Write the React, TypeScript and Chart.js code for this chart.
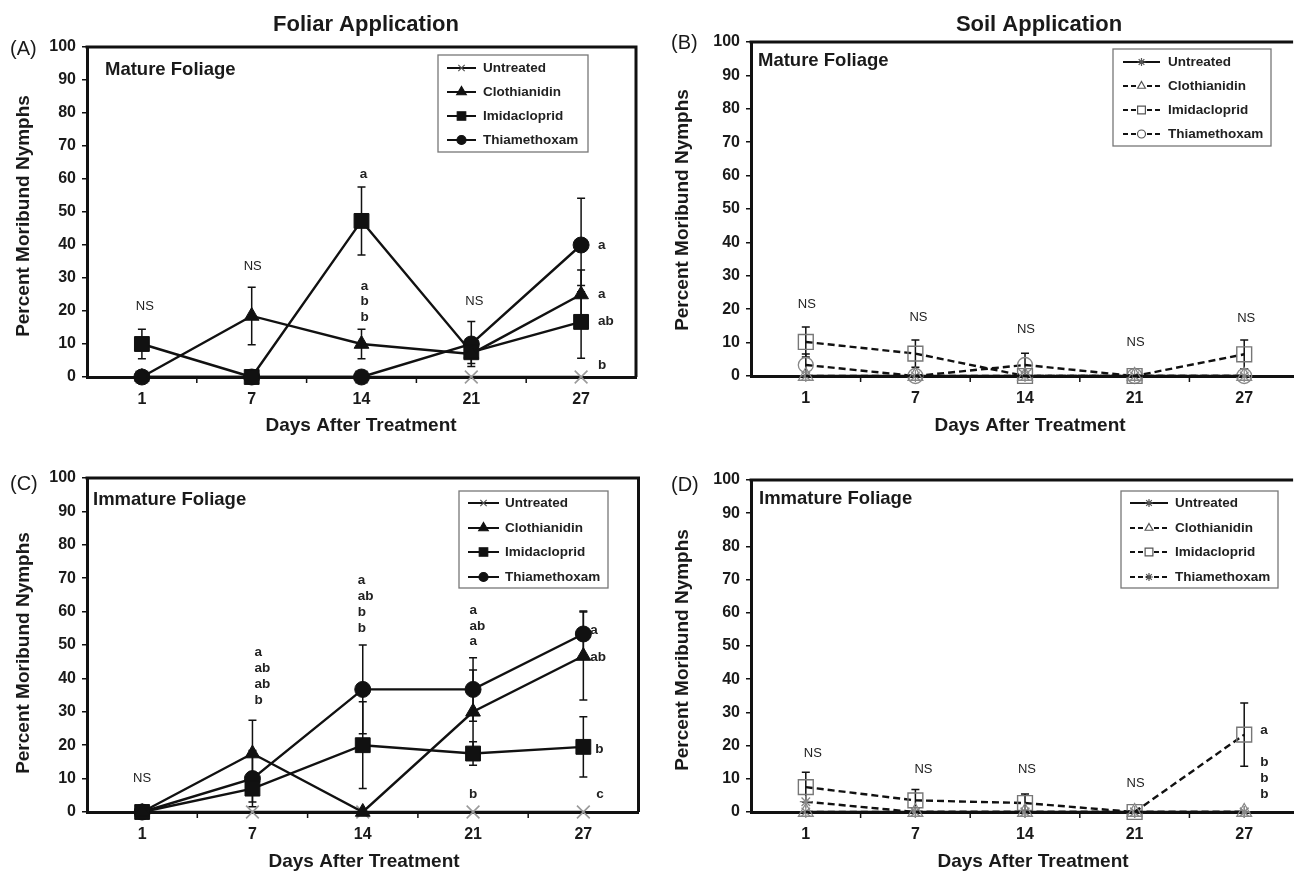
import React, { useEffect, useRef } from 'react';
import { Chart, registerables } from 'chart.js';

Chart.register(...registerables);

const FONT = '"Liberation Sans", Arial, Helvetica, sans-serif';

// ---------- data ----------
const DAYS = ['1', '7', '14', '21', '27'];
const TREATMENTS = ['Untreated', 'Clothianidin', 'Imidacloprid', 'Thiamethoxam'];
const Y_TICKS = { min: 0, max: 100, step: 10 };

// (A) Foliar application – mature foliage
const A_UNTREATED = [0, 0, 0, 0, 0];
const A_CLOTHIANIDIN = [0, 18.5, 10, 7, 25];
const A_IMIDACLOPRID = [10, 0, 47.3, 7.5, 16.7];
const A_THIAMETHOXAM = [0, 0, 0, 10, 40];
const A_ERR_CLOTHIANIDIN = [0, 8.7, 4.5, 0, 7.4];
const A_ERR_IMIDACLOPRID = [4.5, 0, 10.3, 3.4, 11];
const A_ERR_THIAMETHOXAM = [0, 0, 0, 6.8, 14.2];
// [day index, value, text, dx, align]
const A_LETTERS = [
  [0, 21.5, 'NS', 3, 'c'], [1, 33.6, 'NS', 1, 'c'],
  [2, 61.3, 'a', 2, 'c'], [2, 27.6, 'a', 3, 'c'], [2, 23, 'b', 3, 'c'], [2, 18.2, 'b', 3, 'c'],
  [3, 23, 'NS', 3, 'c'],
  [4, 40, 'a', 17, 'l'], [4, 25, 'a', 17, 'l'], [4, 17, 'ab', 17, 'l'], [4, 3.4, 'b', 17, 'l'],
];

// (B) Soil application – mature foliage
const B_UNTREATED = [0, 0, 0, 0, 0];
const B_CLOTHIANIDIN = [0, 0, 0, 0, 0];
const B_IMIDACLOPRID = [10.2, 6.7, 0, 0, 6.5];
const B_THIAMETHOXAM = [3.3, 0, 3.3, 0, 0];
const B_ERR_IMIDACLOPRID = [4.5, 4.1, 0, 0, 4.3];
const B_ERR_THIAMETHOXAM = [3.3, 0, 3.5, 0, 0];
const B_LETTERS = [
  [0, 21.5, 'NS', 1, 'c'], [1, 17.6, 'NS', 3, 'c'], [2, 14, 'NS', 1, 'c'],
  [3, 10.2, 'NS', 1, 'c'], [4, 17.3, 'NS', 2, 'c'],
];

// (C) Foliar application – immature foliage
const C_UNTREATED = [0, 0, 0, 0, 0];
const C_CLOTHIANIDIN = [0, 17.5, 0, 30, 46.7];
const C_IMIDACLOPRID = [0, 7, 20, 17.5, 19.5];
const C_THIAMETHOXAM = [0, 10, 36.7, 36.7, 53.3];
const C_ERR_CLOTHIANIDIN = [0, 10, 0, 12.5, 13.2];
const C_ERR_IMIDACLOPRID = [0, 4, 13, 3.5, 9];
const C_ERR_THIAMETHOXAM = [0, 8.4, 13.3, 9.5, 6.9];
const C_LETTERS = [
  [0, 10.2, 'NS', 0, 'c'],
  [1, 47.9, 'a', 2, 'l'], [1, 43, 'ab', 2, 'l'], [1, 38.3, 'ab', 2, 'l'], [1, 33.5, 'b', 2, 'l'],
  [2, 69.5, 'a', -5, 'l'], [2, 64.7, 'ab', -5, 'l'], [2, 59.9, 'b', -5, 'l'], [2, 55, 'b', -5, 'l'],
  [3, 60.5, 'a', -3.5, 'l'], [3, 55.7, 'ab', -3.5, 'l'], [3, 51, 'a', -3.5, 'l'], [3, 5.4, 'b', 0, 'c'],
  [4, 54.5, 'a', 7, 'l'], [4, 46.4, 'ab', 7, 'l'], [4, 18.9, 'b', 12, 'l'], [4, 5.4, 'c', 13, 'l'],
];

// (D) Soil application – immature foliage
const D_UNTREATED = [0, 0, 0, 0, 0];
const D_CLOTHIANIDIN = [0, 0, 0, 0, 0];
const D_IMIDACLOPRID = [7.5, 3.5, 2.7, 0, 23.3];
const D_THIAMETHOXAM = [3.1, 0, 0, 0, 0];
const D_ERR_IMIDACLOPRID = [4.5, 3.3, 2.7, 0, 9.5];
const D_LETTERS = [
  [0, 17.6, 'NS', 7, 'c'], [1, 12.8, 'NS', 8, 'c'], [2, 12.8, 'NS', 2, 'c'], [3, 8.5, 'NS', 1, 'c'],
  [4, 24.7, 'a', 16, 'l'], [4, 15, 'b', 16, 'l'], [4, 10.2, 'b', 16, 'l'], [4, 5.2, 'b', 16, 'l'],
];

// ---------- styles ----------
const FOLIAR_STYLES = [
  { pointStyle: 'crossRot', r: 9, fill: 'rgba(0,0,0,0)', stroke: '#9a9a9a', pbw: 1.6, dash: [], lr: 4.5 },
  { pointStyle: 'triangle', r: 8.5, fill: '#111', stroke: '#111', pbw: 1, dash: [], lr: 5.5 },
  { pointStyle: 'rect', r: 10.5, fill: '#111', stroke: '#111', pbw: 1, dash: [], lr: 6 },
  { pointStyle: 'circle', r: 8, fill: '#111', stroke: '#111', pbw: 1, dash: [], lr: 4.5 },
];
const SOIL_STYLES_B = [
  { pointStyle: 'star', r: 6, fill: 'rgba(0,0,0,0)', stroke: '#888', pbw: 1.2, dash: [], lr: 4 },
  { pointStyle: 'triangle', r: 8.5, fill: 'rgba(0,0,0,0)', stroke: '#888', pbw: 1.3, dash: [7, 4], lr: 4.5 },
  { pointStyle: 'rect', r: 10.5, fill: 'rgba(0,0,0,0)', stroke: '#777', pbw: 1.4, dash: [7, 4], lr: 5.5 },
  { pointStyle: 'circle', r: 7.5, fill: 'rgba(0,0,0,0)', stroke: '#888', pbw: 1.3, dash: [7, 4], lr: 4 },
];
const SOIL_STYLES_D = [
  SOIL_STYLES_B[0], SOIL_STYLES_B[1], SOIL_STYLES_B[2],
  { pointStyle: 'star', r: 6, fill: 'rgba(0,0,0,0)', stroke: '#888', pbw: 1.3, dash: [7, 4], lr: 4 },
];

const PANELS = [
  {
    key: 'A', left: 0, top: 0, w: 650, h: 440, padTop: 47, padRight: 14, yW: 87, xH: 63, xMax: 4.5, closedRight: true,
    letter: '(A)', letterPos: [10, 55], title: 'Foliar Application', titlePos: [366, 31],
    sub: 'Mature Foliage', subPos: [105, 75], yTitlePos: [24, 216], xTitlePos: [361, 431],
    legend: { box: [438, 55, 150, 97], rows: [68, 92, 116, 140], line: [447, 476], text: 483 },
    styles: FOLIAR_STYLES,
    series: [
      { values: A_UNTREATED, err: null },
      { values: A_CLOTHIANIDIN, err: A_ERR_CLOTHIANIDIN },
      { values: A_IMIDACLOPRID, err: A_ERR_IMIDACLOPRID },
      { values: A_THIAMETHOXAM, err: A_ERR_THIAMETHOXAM },
    ],
    letters: A_LETTERS,
  },
  {
    key: 'B', left: 650, top: 0, w: 655, h: 440, padTop: 42, padRight: 0, yW: 101, xH: 64, xMax: 4.446, closedRight: false,
    letter: '(B)', letterPos: [21, 49], title: 'Soil Application', titlePos: [389, 31],
    sub: 'Mature Foliage', subPos: [108, 66], yTitlePos: [33, 210], xTitlePos: [380, 431],
    legend: { box: [463, 49, 158, 97], rows: [62, 86, 110, 134], line: [473, 510], text: 518 },
    styles: SOIL_STYLES_B,
    series: [
      { values: B_UNTREATED, err: null },
      { values: B_CLOTHIANIDIN, err: null },
      { values: B_IMIDACLOPRID, err: B_ERR_IMIDACLOPRID },
      { values: B_THIAMETHOXAM, err: B_ERR_THIAMETHOXAM },
    ],
    letters: B_LETTERS,
  },
  {
    key: 'C', left: 0, top: 440, w: 650, h: 433, padTop: 38, padRight: 8, yW: 87, xH: 61, xMax: 4.5, closedRight: true,
    letter: '(C)', letterPos: [10, 50], title: '', titlePos: [0, 0],
    sub: 'Immature Foliage', subPos: [93, 65], yTitlePos: [24, 213], xTitlePos: [364, 427],
    legend: { box: [459, 51, 149, 97], rows: [63, 88, 112, 137], line: [468, 499], text: 505 },
    styles: FOLIAR_STYLES,
    series: [
      { values: C_UNTREATED, err: null },
      { values: C_CLOTHIANIDIN, err: C_ERR_CLOTHIANIDIN },
      { values: C_IMIDACLOPRID, err: C_ERR_IMIDACLOPRID },
      { values: C_THIAMETHOXAM, err: C_ERR_THIAMETHOXAM },
    ],
    letters: C_LETTERS,
  },
  {
    key: 'D', left: 650, top: 440, w: 655, h: 433, padTop: 40, padRight: 0, yW: 101, xH: 61, xMax: 4.446, closedRight: false,
    letter: '(D)', letterPos: [21, 51], title: '', titlePos: [0, 0],
    sub: 'Immature Foliage', subPos: [109, 64], yTitlePos: [33, 210], xTitlePos: [383, 427],
    legend: { box: [471, 51, 157, 97], rows: [63, 88, 112, 137], line: [480, 518], text: 525 },
    styles: SOIL_STYLES_D,
    series: [
      { values: D_UNTREATED, err: null },
      { values: D_CLOTHIANIDIN, err: null },
      { values: D_IMIDACLOPRID, err: D_ERR_IMIDACLOPRID },
      { values: D_THIAMETHOXAM, err: null },
    ],
    letters: D_LETTERS,
  },
];

// ---------- drawing helpers ----------
function drawMarker(ctx: CanvasRenderingContext2D, style: string, x: number, y: number, r: number) {
  ctx.beginPath();
  let fillable = true;
  if (style === 'circle') {
    ctx.arc(x, y, r, 0, Math.PI * 2);
  } else if (style === 'rect') {
    const s = r * Math.SQRT1_2;
    ctx.rect(x - s, y - s, 2 * s, 2 * s);
  } else if (style === 'triangle') {
    let a = 0;
    ctx.moveTo(x + Math.sin(a) * r, y - Math.cos(a) * r);
    a += (2 * Math.PI) / 3;
    ctx.lineTo(x + Math.sin(a) * r, y - Math.cos(a) * r);
    a += (2 * Math.PI) / 3;
    ctx.lineTo(x + Math.sin(a) * r, y - Math.cos(a) * r);
    ctx.closePath();
  } else {
    fillable = false;
    const c = r * Math.SQRT1_2;
    ctx.moveTo(x - c, y - c); ctx.lineTo(x + c, y + c);
    ctx.moveTo(x - c, y + c); ctx.lineTo(x + c, y - c);
    if (style === 'star') {
      ctx.moveTo(x - r, y); ctx.lineTo(x + r, y);
      ctx.moveTo(x, y - r); ctx.lineTo(x, y + r);
    }
  }
  if (fillable) ctx.fill();
  ctx.stroke();
}

function makePlugin(spec: any) {
  return {
    id: 'decor' + spec.key,
    beforeDatasetsDraw(chart: any) {
      const { ctx, scales } = chart;
      const x = scales.x, y = scales.y;
      ctx.save();
      ctx.strokeStyle = '#111';
      ctx.lineWidth = 1.5;
      spec.series.forEach((s: any) => {
        if (!s.err) return;
        s.values.forEach((v: number, i: number) => {
          const e = s.err[i];
          if (!e) return;
          const px = x.getPixelForValue(i);
          const pt = y.getPixelForValue(v + e);
          const pb = y.getPixelForValue(Math.max(0, v - e));
          ctx.beginPath();
          ctx.moveTo(px, pt); ctx.lineTo(px, pb);
          ctx.moveTo(px - 4, pt); ctx.lineTo(px + 4, pt);
          ctx.moveTo(px - 4, pb); ctx.lineTo(px + 4, pb);
          ctx.stroke();
        });
      });
      ctx.restore();
    },
    afterDraw(chart: any) {
      const { ctx, chartArea: ca, scales } = chart;
      const x = scales.x, y = scales.y;
      ctx.save();
      // frame (top / right)
      ctx.strokeStyle = '#111';
      ctx.lineWidth = 3;
      ctx.beginPath();
      ctx.moveTo(ca.left - 1.5, ca.top);
      ctx.lineTo(spec.closedRight ? ca.right + 1.5 : ca.right, ca.top);
      if (spec.closedRight) {
        ctx.moveTo(ca.right, ca.top);
        ctx.lineTo(ca.right, ca.bottom);
      }
      ctx.stroke();
      // category boundary ticks on x axis
      ctx.lineWidth = 1.5;
      ctx.beginPath();
      for (let k = 0; k < DAYS.length; k++) {
        const px = x.getPixelForValue(k + 0.5);
        if (px >= ca.right - 2) continue;
        ctx.moveTo(px, ca.bottom);
        ctx.lineTo(px, ca.bottom + 6);
      }
      ctx.stroke();

      // significance letters
      ctx.fillStyle = '#222';
      ctx.textBaseline = 'middle';
      spec.letters.forEach((L: any) => {
        const [i, v, t, dx, al] = L;
        ctx.font = t === 'NS' ? `13px ${FONT}` : `bold 13.5px ${FONT}`;
        ctx.textAlign = al === 'l' ? 'left' : 'center';
        ctx.fillText(t, x.getPixelForValue(i) + dx, y.getPixelForValue(v));
      });

      // legend
      const lg = spec.legend;
      ctx.fillStyle = '#fff';
      ctx.fillRect(lg.box[0], lg.box[1], lg.box[2], lg.box[3]);
      ctx.strokeStyle = '#777';
      ctx.lineWidth = 1.3;
      ctx.strokeRect(lg.box[0], lg.box[1], lg.box[2], lg.box[3]);
      spec.styles.forEach((st: any, k: number) => {
        const ry = lg.rows[k];
        ctx.strokeStyle = '#111';
        ctx.lineWidth = 2;
        ctx.setLineDash(st.dash.length ? [5, 3] : []);
        ctx.beginPath();
        ctx.moveTo(lg.line[0], ry);
        ctx.lineTo(lg.line[1], ry);
        ctx.stroke();
        ctx.setLineDash([]);
        ctx.fillStyle = st.fill === '#111' ? '#111' : '#fff';
        ctx.strokeStyle = st.fill === '#111' ? '#111' : '#555';
        ctx.lineWidth = 1.2;
        drawMarker(ctx, st.pointStyle, (lg.line[0] + lg.line[1]) / 2, ry, st.lr);
        ctx.fillStyle = '#222';
        ctx.font = `bold 13.5px ${FONT}`;
        ctx.textAlign = 'left';
        ctx.textBaseline = 'middle';
        ctx.fillText(TREATMENTS[k], lg.text, ry + 0.5);
      });

      // texts
      ctx.fillStyle = '#1a1a1a';
      ctx.textBaseline = 'alphabetic';
      ctx.textAlign = 'left';
      ctx.font = `20px ${FONT}`;
      ctx.fillText(spec.letter, spec.letterPos[0], spec.letterPos[1]);
      ctx.font = `bold 18.5px ${FONT}`;
      ctx.fillText(spec.sub, spec.subPos[0], spec.subPos[1]);
      if (spec.title) {
        ctx.font = `bold 22px ${FONT}`;
        ctx.textAlign = 'center';
        ctx.fillText(spec.title, spec.titlePos[0], spec.titlePos[1]);
      }
      ctx.font = `bold 19px ${FONT}`;
      ctx.textAlign = 'center';
      ctx.fillText('Days After Treatment', spec.xTitlePos[0], spec.xTitlePos[1]);
      ctx.save();
      ctx.translate(spec.yTitlePos[0], spec.yTitlePos[1]);
      ctx.rotate(-Math.PI / 2);
      ctx.textBaseline = 'middle';
      ctx.fillText('Percent Moribund Nymphs', 0, 0);
      ctx.restore();
      ctx.restore();
    },
  };
}

function buildConfig(spec: any): any {
  return {
    type: 'line',
    data: {
      datasets: spec.series.map((s: any, k: number) => {
        const st = spec.styles[k];
        return {
          label: TREATMENTS[k],
          data: s.values.map((v: number, i: number) => ({ x: i, y: v })),
          borderColor: '#111',
          borderWidth: 2.4,
          borderDash: st.dash,
          pointStyle: st.pointStyle,
          pointRadius: st.r,
          pointBorderColor: st.stroke,
          pointBackgroundColor: st.fill,
          pointBorderWidth: st.pbw,
          tension: 0,
          fill: false,
          clip: false,
          order: k === 0 ? 5 : 0,
        };
      }),
    },
    options: {
      animation: false,
      responsive: false,
      maintainAspectRatio: false,
      devicePixelRatio: 1,
      events: [],
      layout: { padding: { top: spec.padTop, right: spec.padRight, left: 0, bottom: 0 } },
      plugins: { legend: { display: false }, tooltip: { enabled: false } },
      scales: {
        x: {
          type: 'linear',
          min: -0.5,
          max: spec.xMax,
          afterFit: (s: any) => { s.height = spec.xH; },
          afterBuildTicks: (s: any) => { s.ticks = DAYS.map((_, i) => ({ value: i })); },
          ticks: {
            callback: (v: number) => DAYS[v],
            font: { family: FONT, size: 16, weight: 'bold' },
            color: '#1a1a1a',
            padding: 5,
            autoSkip: false,
            maxRotation: 0,
          },
          grid: { display: false },
          border: { display: true, color: '#111', width: 3 },
        },
        y: {
          min: Y_TICKS.min,
          max: Y_TICKS.max,
          afterFit: (s: any) => { s.width = spec.yW; },
          ticks: {
            stepSize: Y_TICKS.step,
            font: { family: FONT, size: 16, weight: 'bold' },
            color: '#1a1a1a',
            padding: 6,
          },
          grid: { drawOnChartArea: false, drawTicks: true, tickLength: 5, color: '#111', lineWidth: 1.5 },
          border: { display: true, color: '#111', width: 3 },
        },
      },
    },
    plugins: [makePlugin(spec)],
  };
}

function Panel({ spec }: { spec: any }) {
  const ref = useRef<HTMLCanvasElement>(null);
  useEffect(() => {
    const chart = new Chart(ref.current as HTMLCanvasElement, buildConfig(spec));
    return () => chart.destroy();
  }, [spec]);
  return (
    <canvas
      ref={ref}
      width={spec.w}
      height={spec.h}
      style={{ position: 'absolute', left: spec.left, top: spec.top, width: spec.w, height: spec.h }}
    />
  );
}

export default function App() {
  return (
    <div style={{ position: 'absolute', left: 0, top: 0, width: 1305, height: 873, background: '#fff', overflow: 'hidden' }}>
      {PANELS.map((p) => (
        <Panel key={p.key} spec={p} />
      ))}
    </div>
  );
}
